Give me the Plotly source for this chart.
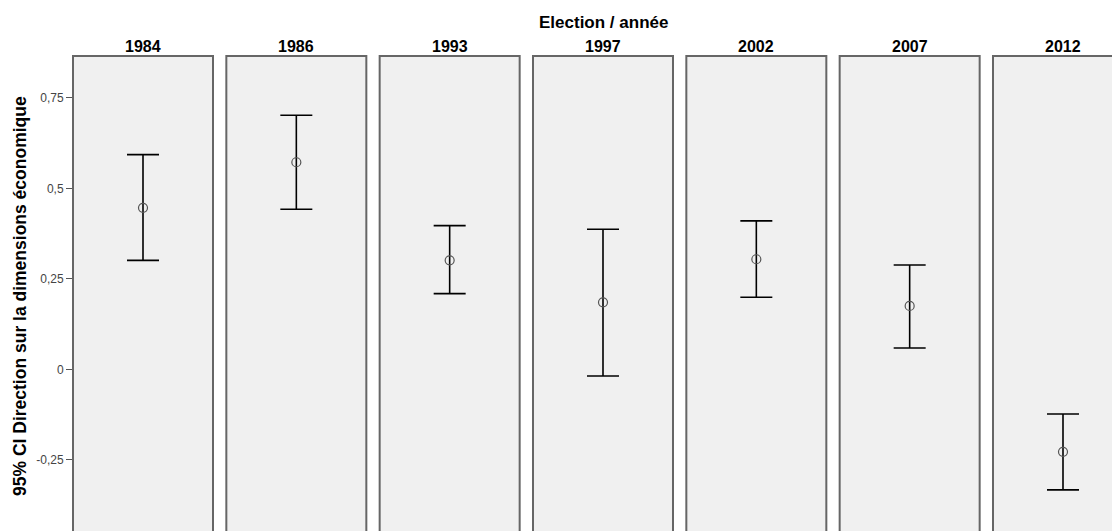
import plotly.graph_objects as go

# ---- data ----
years = ["1984", "1986", "1993", "1997", "2002", "2007", "2012"]
means = [0.446, 0.572, 0.301, 0.185, 0.304, 0.175, -0.228]
upper = [0.593, 0.702, 0.397, 0.387, 0.410, 0.288, -0.1235]
lower = [0.301, 0.442, 0.209, -0.0185, 0.199, 0.059, -0.333]
ytick_vals = [-0.25, 0, 0.25, 0.5, 0.75]
ytick_text = ["-0,25", "0", "0,25", "0,5", "0,75"]
title_text = "Election / année"
ytitle_text = "95% CI Direction sur la dimensions économique"

# page body has an 8px margin: lay out in figure pixels = reference pixels - 8
OFF = 8
W, H = 1120 - OFF, 531 - OFF
FONT = "Liberation Sans, Arial, sans-serif"
panel_left0 = 73.0 - OFF
panel_pitch = 153.333
panel_w = 140.0
top_px = 56.0 - OFF
y0_px = 369.3 - OFF      # pixel of value 0
px_per_unit = 362.0      # pixels per 1.0

ytop = (y0_px - top_px) / px_per_unit
ybot = (y0_px - H) / px_per_unit

fig = go.Figure()
layout_axes = {}
shapes = []
annotations = []

for i, yr in enumerate(years):
    L = panel_left0 + i * panel_pitch
    R = L + panel_w
    Rvis = min(R, W)
    xname = "x" if i == 0 else f"x{i+1}"
    xkey = "xaxis" if i == 0 else f"xaxis{i+1}"
    xr = [-0.5, -0.5 + (Rvis - L) / panel_w]
    layout_axes[xkey] = dict(
        domain=[L / W, Rvis / W], range=xr, showticklabels=False,
        showgrid=False, zeroline=False, showline=False, ticks="",
        anchor="y", fixedrange=True,
    )
    fig.add_trace(go.Scatter(
        x=[0], y=[means[i]], xaxis=xname, yaxis="y", mode="markers",
        marker=dict(symbol="circle-open", size=9, color="#555555",
                    line=dict(width=1.2, color="#555555")),
        error_y=dict(type="data", symmetric=False,
                     array=[upper[i] - means[i]],
                     arrayminus=[means[i] - lower[i]],
                     color="black", thickness=1.6, width=16),
        showlegend=False, hoverinfo="skip",
    ))
    shapes.append(dict(
        type="rect", xref="paper", yref="paper",
        x0=L / W, x1=R / W, y0=-0.1, y1=1 - top_px / H,
        line=dict(color="#666666", width=2), fillcolor="rgba(0,0,0,0)",
        layer="above",
    ))
    annotations.append(dict(
        text=f"<b>{yr}</b>", xref="paper", yref="paper",
        x=(L + panel_w / 2) / W, y=1 - (46.5 - OFF) / H,
        xanchor="center", yanchor="middle", showarrow=False,
        font=dict(family=FONT, size=16, color="black"),
    ))

annotations.append(dict(
    text=f"<b>{title_text}</b>", xref="paper", yref="paper",
    x=(603 - OFF) / W, y=1 - (22.5 - OFF) / H, xanchor="center", yanchor="middle",
    showarrow=False, font=dict(family=FONT, size=17, color="black"),
))
annotations.append(dict(
    text=f"<b>{ytitle_text}</b>", xref="paper", yref="paper",
    x=(20 - OFF) / W, y=1 - (296 - OFF) / H, xanchor="center", yanchor="middle",
    textangle=-90, showarrow=False,
    font=dict(family=FONT, size=17.5, color="black"),
))

fig.update_layout(
    width=W, height=H,
    margin=dict(l=0, r=0, t=0, b=0, autoexpand=False),
    paper_bgcolor="white", plot_bgcolor="#f0f0f0",
    yaxis=dict(
        domain=[0, 1 - top_px / H], range=[ybot, ytop],
        tickvals=ytick_vals, ticktext=ytick_text,
        ticks="outside", ticklen=6, tickwidth=1, tickcolor="#555555",
        tickfont=dict(family=FONT, size=12, color="#444444"),
        showgrid=False, zeroline=False, showline=False,
        anchor="x", fixedrange=True, automargin=False,
    ),
    shapes=shapes, annotations=annotations,
    showlegend=False,
    **layout_axes,
)

fig.write_html("out.html")
